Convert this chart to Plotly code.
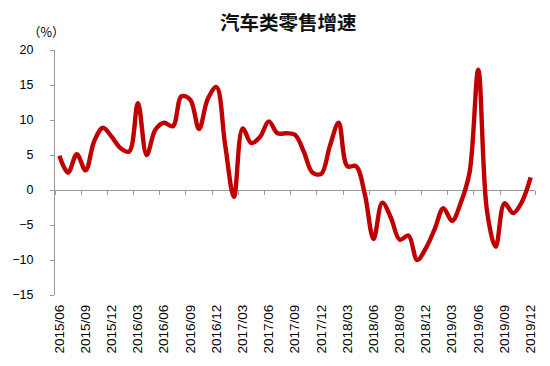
import plotly.graph_objects as go

months = [
    "2015/06", "2015/07", "2015/08", "2015/09", "2015/10", "2015/11", "2015/12",
    "2016/01", "2016/02", "2016/03", "2016/04", "2016/05", "2016/06", "2016/07",
    "2016/08", "2016/09", "2016/10", "2016/11", "2016/12",
    "2017/01", "2017/02", "2017/03", "2017/04", "2017/05", "2017/06", "2017/07",
    "2017/08", "2017/09", "2017/10", "2017/11", "2017/12",
    "2018/01", "2018/02", "2018/03", "2018/04", "2018/05", "2018/06", "2018/07",
    "2018/08", "2018/09", "2018/10", "2018/11", "2018/12",
    "2019/01", "2019/02", "2019/03", "2019/04", "2019/05", "2019/06", "2019/07",
    "2019/08", "2019/09", "2019/10", "2019/11", "2019/12",
]

growth = [
    4.9, 2.5, 5.1, 2.8, 7.0, 8.9, 7.6,
    6.0, 5.5, 12.4, 5.0, 8.6, 9.6, 9.1,
    13.4, 12.9, 8.7, 13.0, 14.7,
    6.4, -1.0, 8.8, 6.7, 7.6, 9.8, 8.1,
    8.1, 7.9, 5.5, 2.5, 2.3,
    6.3, 9.6, 3.4, 3.4, -0.6, -7.0, -1.8,
    -4.0, -7.1, -6.5, -10.0, -8.3,
    -5.6, -2.6, -4.4, -1.8, 2.5, 17.2, -3.0,
    -8.1, -1.9, -3.3, -1.7, 1.8,
]

tick_labels = [
    "2015/06", "2015/09", "2015/12", "2016/03", "2016/06", "2016/09", "2016/12",
    "2017/03", "2017/06", "2017/09", "2017/12", "2018/03", "2018/06", "2018/09",
    "2018/12", "2019/03", "2019/06", "2019/09", "2019/12",
]

y_ticks = [-15, -10, -5, 0, 5, 10, 15, 20]
y_min, y_max = -15, 20

title_text = "汽车类零售增速"
unit_text = "（%）"

AXIS_GRAY = "#9a9a9a"
LINE_RED = "#c00000"

fig = go.Figure()

fig.add_trace(go.Scatter(
    x=months, y=growth, mode="lines",
    line=dict(color=LINE_RED, width=4.4, shape="spline", smoothing=1),
    showlegend=False, hoverinfo="x+y",
))
# invisible copy on the zero-line axis so it shares the categories
fig.add_trace(go.Scatter(
    x=months, y=growth, mode="lines", xaxis="x2",
    line=dict(color="rgba(0,0,0,0)", width=0),
    showlegend=False, hoverinfo="skip",
))

zero_pos = (0 - y_min) / (y_max - y_min)

fig.update_layout(
    width=550, height=366,
    margin=dict(l=50, r=12, t=50, b=71),
    paper_bgcolor="white", plot_bgcolor="white",
    font=dict(family="Liberation Sans, Arial, sans-serif", color="black", size=12),
    title=dict(
        text=title_text, x=0.486, xanchor="center", y=0.937, yanchor="middle",
        xref="paper", yref="container",
        font=dict(family="Noto Sans CJK SC", size=19.5, color="#111111", weight="bold"),
    ),
    xaxis=dict(
        type="category", range=[-0.5, len(months) - 0.5],
        tickmode="array", tickvals=tick_labels, ticktext=tick_labels,
        tickangle=-90, showline=False, ticks="", showgrid=False, zeroline=False,
        tickfont=dict(size=13.5, color="black"), ticklabelstandoff=6,
    ),
    xaxis2=dict(
        type="category", range=[-0.5, len(months) - 0.5],
        overlaying="x", anchor="free", position=zero_pos, side="bottom",
        tickmode="array", tickvals=tick_labels, tickson="boundaries",
        showticklabels=False, ticks="outside", ticklen=4, tickcolor=AXIS_GRAY,
        tickwidth=1, showline=True, linecolor=AXIS_GRAY, linewidth=1.2,
        showgrid=False, zeroline=False, layer="below traces",
    ),
    yaxis=dict(
        range=[y_min, y_max], tickmode="array", tickvals=y_ticks,
        ticktext=[("−" + str(abs(v))) if v < 0 else str(v) for v in y_ticks],
        showline=True, linecolor=AXIS_GRAY, linewidth=1.2,
        ticks="outside", ticklen=4, tickcolor=AXIS_GRAY, tickwidth=1,
        showgrid=False, zeroline=False, layer="below traces",
        tickfont=dict(size=12.5, color="black"), ticklabelstandoff=14,
    ),
    annotations=[dict(
        text=unit_text, xref="paper", yref="paper", x=-0.017, y=1.0,
        xanchor="center", yanchor="bottom", yshift=7, showarrow=False,
        font=dict(family="Noto Sans CJK SC", size=12.5, color="black"),
    )],
)

fig.write_html(
    "out.html",
    config={"displayModeBar": False},
    post_script="document.body.style.margin='0px';document.body.style.padding='0px';",
)
